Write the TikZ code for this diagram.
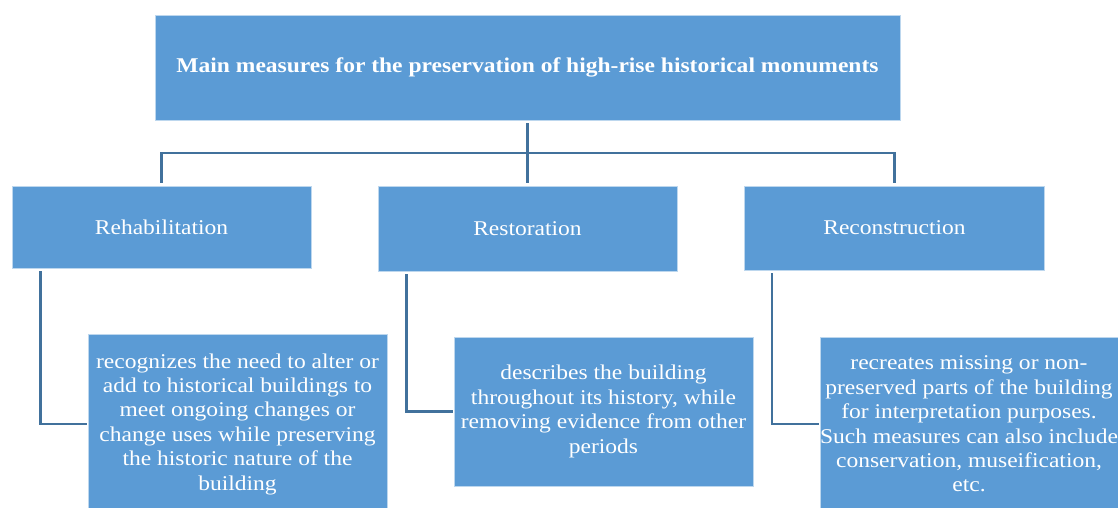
\documentclass[tikz,border=0pt]{standalone}
\usepackage{fontspec}
\setmainfont[FakeStretch=1.12]{Liberation Serif}
\definecolor{boxblue}{HTML}{5B9BD5}
\definecolor{linkblue}{HTML}{41719C}
\definecolor{edgeblue}{HTML}{BDD7EE}
\tikzset{
  box/.style={fill=boxblue, draw=edgeblue, line width=0.8pt, text=white,
    inner sep=0pt, align=center, font=\fontsize{21}{24.4}\selectfont},
  link/.style={draw=linkblue, line width=2.5pt}
}

\begin{document}
\begin{tikzpicture}[x=1pt,y=-1pt]
    \useasboundingbox (0,0) rectangle (1118,507);
    % top box
    \node[box, minimum width=745pt, minimum height=105pt,
      font=\bfseries\fontsize{21}{24}\selectfont] (main) at (527.5,67.5)
      {Main measures for the preservation of high-rise historical monuments};
    % the three measures
    \node[box, minimum width=299pt, minimum height=82pt] (rehab) at (161.5,227) {Rehabilitation};
    \node[box, minimum width=299pt, minimum height=85pt] (resto) at (527.5,228.5) {Restoration};
    \node[box, minimum width=300pt, minimum height=84pt] (recon) at (894.5,228) {Reconstruction};
    % descriptions
    \node[box, minimum width=299pt, minimum height=180pt] (rehabtext) at (237.5,424)
      {recognizes the need to alter or\\add to historical buildings to\\meet ongoing changes or\\change uses while preserving\\the historic nature of the\\building};
    \node[box, minimum width=299pt, minimum height=149pt] (restotext) at (603.5,411.5)
      {describes the building\\throughout its history, while\\removing evidence from other\\periods};
    \node[box, minimum width=298pt, minimum height=174pt] (recontext) at (969,424)
      {recreates missing or non-\\preserved parts of the building\\for interpretation purposes.\\Such measures can also include\\conservation, museification,\\etc.};
    % tree lines
    \coordinate (split) at (527.5,153);
    \draw[link, shorten <=3pt, shorten >=3pt] (main.south) -- (resto.north);
    \draw[link, shorten <=3pt, shorten >=3pt] (rehab.north) -- (rehab.north |- split)
      -- (recon.north |- split) -- (recon.north);
    % side lines to the descriptions
    \draw[link, shorten <=3pt, shorten >=1pt] ([xshift=29pt]rehab.south west) |- (rehabtext.west);
    \draw[link, shorten <=3pt, shorten >=1pt] ([xshift=29pt]resto.south west) |- (restotext.west);
    \draw[link, shorten <=3pt, shorten >=1pt] ([xshift=28pt]recon.south west) |- (recontext.west);
\end{tikzpicture}
\end{document}
